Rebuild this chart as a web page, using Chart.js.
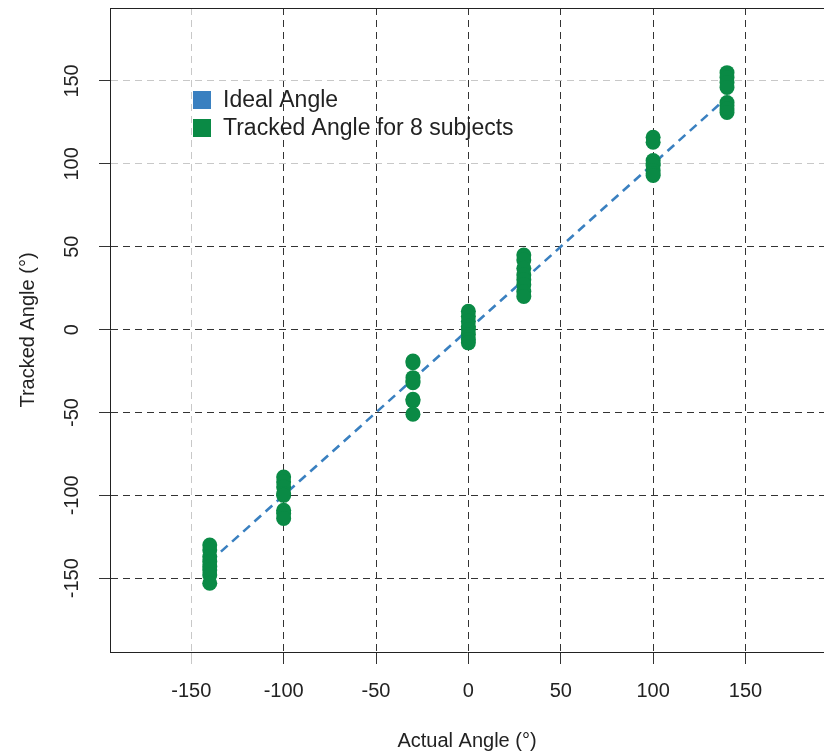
<!DOCTYPE html>
<html>
<head>
<meta charset="utf-8">
<script src="https://cdn.jsdelivr.net/npm/chart.js@4"></script>
<style>
  html, body { margin: 0; padding: 0; background: #fff; }
  #wrap { width: 824px; height: 753px; }
</style>
</head>
<body>
<div id="wrap"><canvas id="chart"></canvas></div>
<script>
// actual angles shown to subjects, and the tracked angle for each of 8 subjects
const actualAngles = [-140, -100, -30, 0, 30, 100, 140];
const trackedM140 = [-130, -133, -137, -140, -143, -145, -148, -153];
const trackedM100 = [-89, -92, -95, -99, -100, -109, -111, -114];
const trackedM30 = [-19, -20, -29, -31, -32, -42, -43, -51];
const tracked0 = [11, 8, 5, 2, 0, -3, -6, -8];
const tracked30 = [45, 42, 37, 33, 30, 27, 23, 20];
const tracked100 = [116, 113, 102, 100, 99, 96, 94, 93];
const tracked140 = [155, 152, 149, 146, 137, 135, 133, 131];
const trackedAll = [trackedM140, trackedM100, trackedM30, tracked0, tracked30, tracked100, tracked140];

const idealEnds = [-140, 140];
const xTicks = [-150, -100, -50, 0, 50, 100, 150];
const yTicks = [-150, -100, -50, 0, 50, 100, 150];
const lightX = [-150];
const lightY = [100, 150];

const legendItems = ['Ideal Angle', 'Tracked Angle for 8 subjects'];
const BLUE = '#3a80c0';
const GREEN = '#0a8a45';
const FONT = '"Liberation Sans", Arial, Helvetica, sans-serif';

const points = [];
actualAngles.forEach((a, i) => {
  trackedAll[i].forEach(v => points.push({ x: a, y: v }));
});

const gridColor = light => ctx => light.includes(ctx.tick.value) ? '#c8c8c8' : '#333';

// box top edge, rotated y labels and legend
const extras = {
  id: 'extras',
  afterDraw(chart) {
    const c = chart.ctx;
    const a = chart.chartArea;
    const ys = chart.scales.y;
    c.save();
    c.strokeStyle = '#222';
    c.lineWidth = 1;
    c.beginPath();
    c.moveTo(a.left, a.top + 0.5);
    c.lineTo(a.right, a.top + 0.5);
    c.stroke();

    c.fillStyle = '#222';
    c.font = '20px ' + FONT;
    c.textAlign = 'center';
    c.textBaseline = 'middle';
    yTicks.forEach(v => {
      c.save();
      c.translate(72, ys.getPixelForValue(v));
      c.rotate(-Math.PI / 2);
      c.fillText(String(v), 0, 0);
      c.restore();
    });

    const cols = [BLUE, GREEN];
    c.font = '23px ' + FONT;
    c.textAlign = 'left';
    legendItems.forEach((t, i) => {
      const cy = 100 + i * 28;
      c.fillStyle = cols[i];
      c.fillRect(193, cy - 9, 18, 18);
      c.fillStyle = '#222';
      c.fillText(t, 223, cy + 1);
    });
    c.restore();
  }
};

new Chart(document.getElementById('chart'), {
  type: 'scatter',
  data: {
    datasets: [
      {
        label: legendItems[1],
        data: points,
        backgroundColor: GREEN,
        borderColor: GREEN,
        pointRadius: 7.5,
        pointHoverRadius: 7.5,
        borderWidth: 0,
      },
      {
        label: legendItems[0],
        type: 'line',
        data: idealEnds.map(v => ({ x: v, y: v })),
        borderColor: BLUE,
        borderWidth: 2.6,
        borderDash: [9, 6],
        pointRadius: 0,
        fill: false,
      }
    ]
  },
  options: {
    responsive: true,
    maintainAspectRatio: false,
    animation: false,
    layout: { autoPadding: false, padding: { top: 8, right: 0, left: 0, bottom: 0 } },
    plugins: { legend: { display: false }, tooltip: { enabled: false } },
    scales: {
      x: {
        type: 'linear',
        min: -194,
        max: 192.5,
        z: 1,
        afterBuildTicks: s => { s.ticks = xTicks.map(v => ({ value: v })); },
        afterFit: s => { s.height = 101; s.paddingLeft = 0; s.paddingRight = 0; },
        border: { color: '#222', width: 1, dash: [7, 5] },
        grid: {
          color: gridColor(lightX),
          lineWidth: 1,
          tickLength: 12,
          tickColor: gridColor(lightX),
          tickBorderDash: [1, 0],
        },
        ticks: { color: '#222', font: { family: FONT, size: 20 }, padding: 15, maxRotation: 0 },
        title: {
          display: true, text: 'Actual Angle (°)', color: '#222',
          font: { family: FONT, size: 20 }, padding: { top: 1, bottom: 0 }
        }
      },
      y: {
        type: 'linear',
        min: -194.5,
        max: 194,
        z: 1,
        afterBuildTicks: s => { s.ticks = yTicks.map(v => ({ value: v })); },
        afterFit: s => { s.width = 110; s.paddingTop = 0; s.paddingBottom = 0; },
        border: { color: '#222', width: 1, dash: [7, 5] },
        grid: {
          color: gridColor(lightY),
          lineWidth: 1,
          tickLength: 11,
          tickColor: '#333',
          tickBorderDash: [1, 0],
        },
        ticks: { display: false },
        title: {
          display: true, text: 'Tracked Angle (°)', color: '#222',
          font: { family: FONT, size: 20 }, padding: { top: 16, bottom: 0 }
        }
      }
    }
  },
  plugins: [extras]
});
</script>
</body>
</html>
